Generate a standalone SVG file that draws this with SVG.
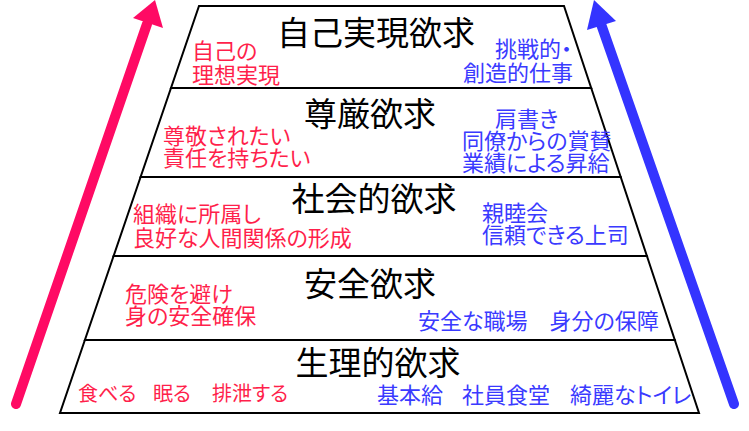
<svg xmlns="http://www.w3.org/2000/svg" width="749" height="431" viewBox="0 0 749 431">
<style>
.lvl{fill:#ffffff;stroke:#000;stroke-width:2;stroke-linejoin:miter}
.t{font-family:"Noto Sans CJK JP","Noto Sans CJK SC",sans-serif;font-size:33px;fill:#000;text-anchor:middle}
.r{font-family:"Noto Sans CJK JP","Noto Sans CJK SC",sans-serif;font-size:22px;fill:#ff1f4b;font-feature-settings:"palt"}
.b{font-family:"Noto Sans CJK JP","Noto Sans CJK SC",sans-serif;font-size:22px;fill:#3a3aff;font-feature-settings:"palt"}
.s{font-size:20px}
</style>
<rect width="749" height="431" fill="#ffffff"/>
<g id="connectors">
  <g id="arrow-left">
    <line x1="16" y1="404" x2="147" y2="24" stroke="#ff0a64" stroke-width="10" stroke-linecap="round"/>
    <polygon points="155,0 133,18 163,28" fill="#ff0a64"/>
  </g>
  <g id="arrow-right">
    <line x1="734" y1="404" x2="601" y2="24" stroke="#3434ff" stroke-width="10" stroke-linecap="round"/>
    <polygon points="594,0 587,30 616,21" fill="#3434ff"/>
  </g>
</g>
<g id="level1">
  <polygon class="lvl" points="199,6 564,6 591.2,88 171,88"/>
  <text class="t" x="376" y="45">自己実現欲求</text>
  <text class="r" x="192" y="59">自己の<tspan x="192" dy="24">理想実現</tspan></text>
  <text class="b" x="495" y="57">挑戦的・<tspan x="463" dy="24">創造的仕事</tspan></text>
</g>
<g id="level2">
  <polygon class="lvl" points="171,88 591.2,88 620.7,177 140.6,177"/>
  <text class="t" x="370" y="126">尊厳欲求</text>
  <text class="r" x="163" y="144">尊敬されたい<tspan x="163" dy="22">責任を持ちたい</tspan></text>
  <text class="b" x="495" y="127">肩書き<tspan x="462" dy="22">同僚からの賞賛</tspan><tspan x="462" dy="22">業績による昇給</tspan></text>
</g>
<g id="level3">
  <polygon class="lvl" points="140.6,177 620.7,177 646.9,256 113.6,256"/>
  <text class="t" x="374" y="211">社会的欲求</text>
  <text class="r" x="133" y="222">組織に所属し<tspan x="133" dy="24">良好な人間関係の形成</tspan></text>
  <text class="b" x="482" y="221">親睦会<tspan x="482" dy="22">信頼できる上司</tspan></text>
</g>
<g id="level4">
  <polygon class="lvl" points="113.6,256 646.9,256 674.8,340 84.9,340"/>
  <text class="t" x="370" y="296">安全欲求</text>
  <text class="r" x="125" y="302">危険を避け<tspan x="125" dy="22">身の安全確保</tspan></text>
  <text class="b" x="418" y="329">安全な職場　身分の保障</text>
</g>
<g id="level5">
  <polygon class="lvl" points="84.9,340 674.8,340 699,413 60,413"/>
  <text class="t" x="378" y="375">生理的欲求</text>
  <text class="r s" x="78" y="401">食べる</text>
  <text class="r s" x="153" y="401">眠る</text>
  <text class="r s" x="212" y="401">排泄する</text>
  <text class="b" x="377" y="403">基本給</text>
  <text class="b" x="462" y="403">社員食堂</text>
  <text class="b" x="570" y="403">綺麗なトイレ</text>
</g>
</svg>
